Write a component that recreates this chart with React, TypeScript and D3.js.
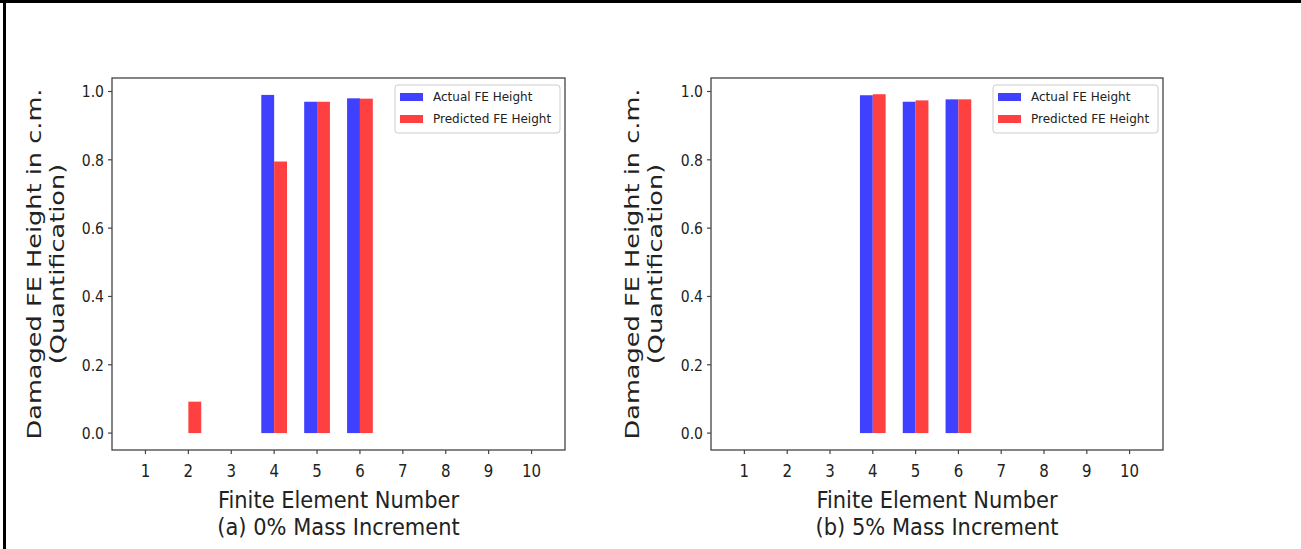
import React from "react";
import * as d3 from "d3";

const elements = [1, 2, 3, 4, 5, 6, 7, 8, 9, 10];
const actualA = [0, 0, 0, 0.99, 0.97, 0.98, 0, 0, 0, 0];
const predictedA = [0, 0.092, 0, 0.795, 0.97, 0.979, 0, 0, 0, 0];
const actualB = [0, 0, 0, 0.989, 0.97, 0.977, 0, 0, 0, 0];
const predictedB = [0, 0, 0, 0.992, 0.974, 0.977, 0, 0, 0, 0];
const yTicks = [0, 0.2, 0.4, 0.6, 0.8, 1.0];
const seriesNames = ["Actual FE Height", "Predicted FE Height"];
const colors = ["rgb(64,64,255)", "rgb(255,64,64)"];
const yLabel1 = "Damaged FE Height in c.m.";
const yLabel2 = "(Quantification)";
const xLabel = "Finite Element Number";
const captions = ["(a) 0% Mass Increment", "(b) 5% Mass Increment"];

const FONT = "DejaVu Sans, sans-serif";
const TXT = "#222";

type PanelProps = {
  left: number;
  right: number;
  top: number;
  bottom: number;
  actual: number[];
  predicted: number[];
  caption: string;
  yl1: number;
  yl2: number;
};

function Panel({ left, right, top, bottom, actual, predicted, caption, yl1, yl2 }: PanelProps) {
  const barW = 0.3;
  const x = d3.scaleLinear().domain([0.7 - 0.48, 10.3 + 0.48]).range([left, right]);
  const y = d3.scaleLinear().domain([-0.0495, 1.0395]).range([bottom, top]);
  const cx = (left + right) / 2;
  const cy = (top + bottom) / 2;
  const bw = x(barW) - x(0);
  return (
    <g>
      {elements.map((e, i) => (
        <g key={e}>
          <rect x={x(e - barW)} y={y(actual[i])} width={bw} height={y(0) - y(actual[i])} fill={colors[0]} />
          <rect x={x(e)} y={y(predicted[i])} width={bw} height={y(0) - y(predicted[i])} fill={colors[1]} />
        </g>
      ))}
      <rect x={left} y={top} width={right - left} height={bottom - top} fill="none" stroke="#444" strokeWidth={1.3} />
      {yTicks.map((t) => (
        <g key={t}>
          <line x1={left - 4} x2={left} y1={y(t)} y2={y(t)} stroke="#444" strokeWidth={1.2} />
          <text transform={`translate(${left - 8},${y(t)}) scale(1,1.1)`} textAnchor="end" dominantBaseline="central" fontFamily={FONT} fontSize={14} fill={TXT}>
            {t.toFixed(1)}
          </text>
        </g>
      ))}
      {elements.map((e) => (
        <g key={e}>
          <line x1={x(e)} x2={x(e)} y1={bottom} y2={bottom + 4} stroke="#444" strokeWidth={1.2} />
          <text transform={`translate(${x(e)},477) scale(1,1.2)`} textAnchor="middle" fontFamily={FONT} fontSize={15} fill={TXT}>
            {e}
          </text>
        </g>
      ))}
      <text transform={`translate(${cx},508) scale(1,1.1)`} textAnchor="middle" fontFamily={FONT} fontSize={21} fill={TXT}>
        {xLabel}
      </text>
      <text transform={`translate(${cx},535) scale(1,1.1)`} textAnchor="middle" fontFamily={FONT} fontSize={21} fill={TXT}>
        {caption}
      </text>
      <text transform={`translate(${yl1},${cy}) rotate(-90) scale(1.28,1)`} textAnchor="middle" dominantBaseline="central" fontFamily={FONT} fontSize={20} fill={TXT}>
        {yLabel1}
      </text>
      <text transform={`translate(${yl2},${cy}) rotate(-90) scale(1.28,1)`} textAnchor="middle" dominantBaseline="central" fontFamily={FONT} fontSize={20} fill={TXT}>
        {yLabel2}
      </text>
      <g>
        <rect x={right - 170} y={top + 7} width={165} height={48} rx={3} fill="white" stroke="#ccc" strokeWidth={1} />
        {seriesNames.map((n, i) => (
          <g key={n}>
            <rect x={right - 165} y={top + 15 + i * 22} width={23} height={8} fill={colors[i]} />
            <text x={right - 132} y={top + 19 + i * 22} dominantBaseline="central" fontFamily={FONT} fontSize={12} fill={TXT}>
              {n}
            </text>
          </g>
        ))}
      </g>
    </g>
  );
}

export default function App() {
  return (
    <svg width={1301} height={549} style={{ position: "absolute", left: 0, top: 0, background: "white" }}>
      <rect x={0} y={0} width={1301} height={549} fill="white" />
      <rect x={0} y={0} width={1301} height={3} fill="black" />
      <rect x={3} y={0} width={3} height={549} fill="black" />
      <Panel left={112} right={565} top={78} bottom={450} actual={actualA} predicted={predictedA} caption={captions[0]} yl1={34} yl2={57} />
      <Panel left={711} right={1163} top={78} bottom={450} actual={actualB} predicted={predictedB} caption={captions[1]} yl1={632} yl2={655} />
    </svg>
  );
}
